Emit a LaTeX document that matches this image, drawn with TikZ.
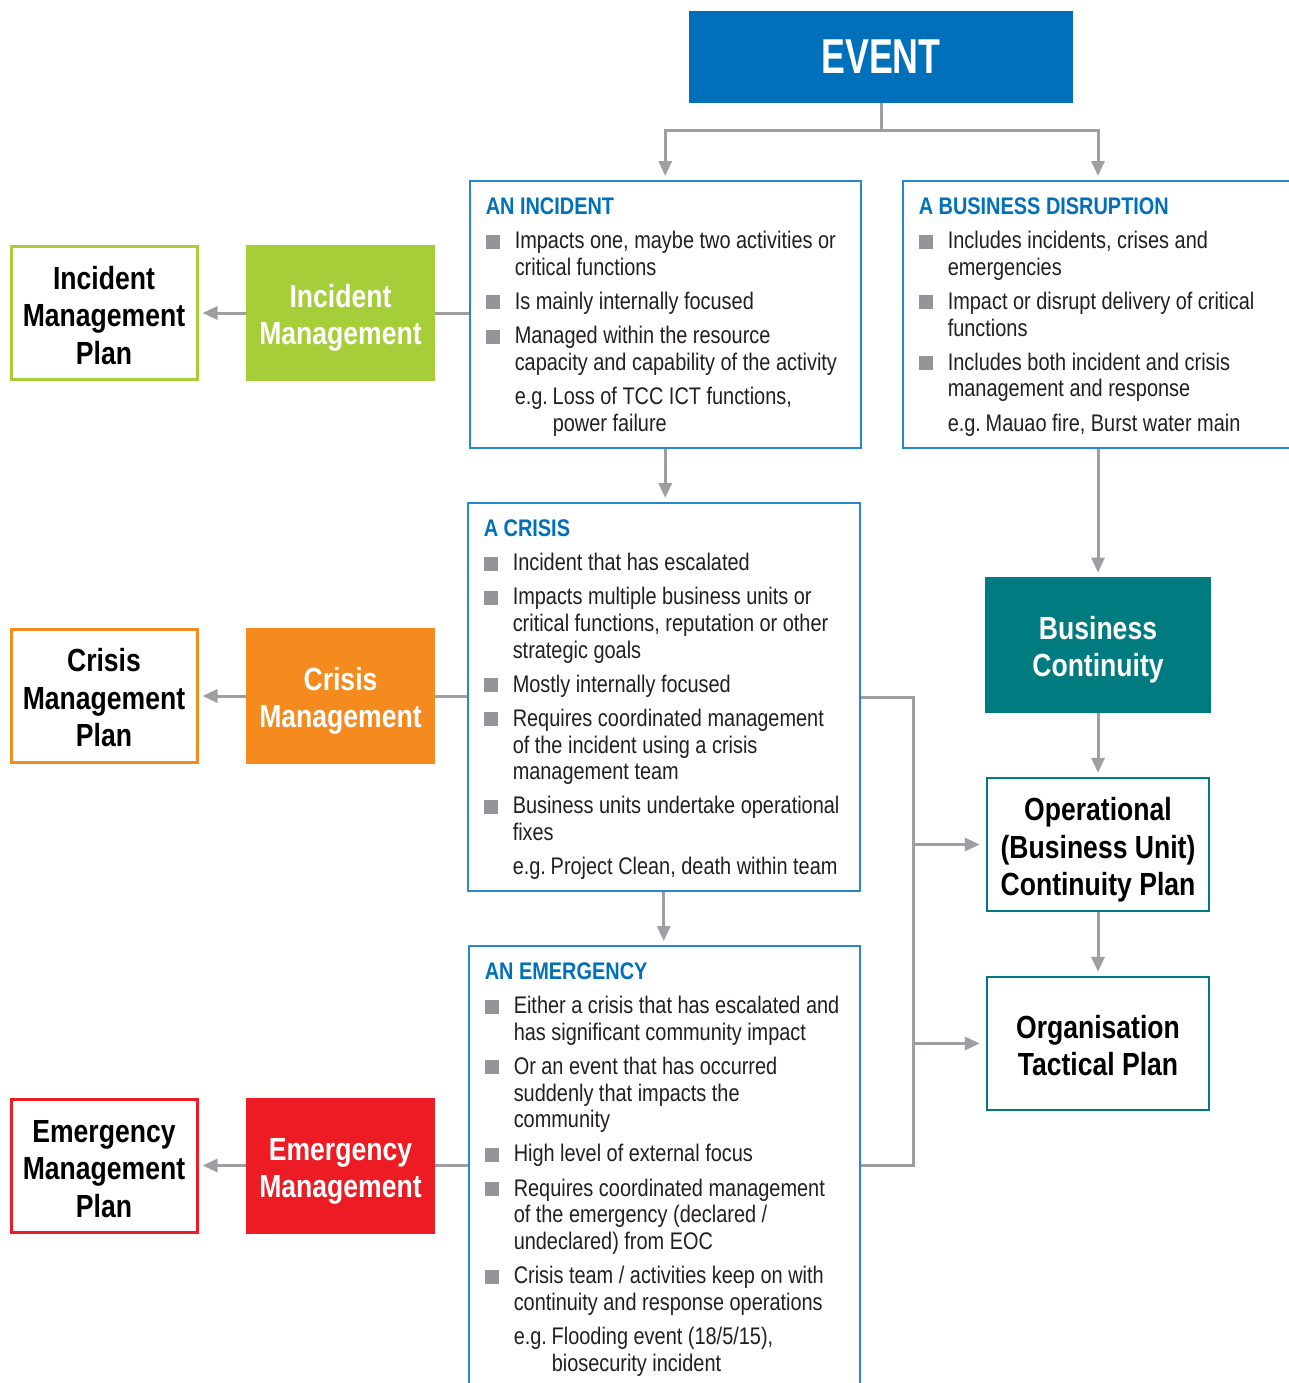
\documentclass[tikz,border=0pt]{standalone}
\usepackage{fontspec}
\setmainfont[FakeStretch=0.83]{Liberation Sans}
\newfontfamily\eventfont[FakeStretch=0.73]{Liberation Sans}
\usepackage{tikz}
\usetikzlibrary{arrows.meta}
\definecolor{EvBlue}{RGB}{0,112,186}
\definecolor{EvBorder}{RGB}{40,136,205}
\definecolor{EvGreen}{RGB}{166,206,57}
\definecolor{EvOrange}{RGB}{245,139,31}
\definecolor{EvRed}{RGB}{237,28,36}
\definecolor{EvTeal}{RGB}{0,123,128}
\definecolor{EvGrey}{RGB}{157,159,162}
\definecolor{EvBullet}{RGB}{147,149,152}
\definecolor{EvText}{RGB}{35,31,32}

\newcommand\boxhead[1]{{\bfseries\color{EvBlue}#1}\par}
\newcommand\bitem[1]{\par\vspace{3.7pt}\noindent\hangindent=14.5pt\hangafter=1
  \makebox[14.5pt][l]{\textcolor{EvBullet}{\rule{7pt}{7pt}}}#1}
\newcommand\egitem[1]{\par\vspace{3.7pt}\noindent\hangindent=33.5pt\hangafter=1
  \hspace*{14.5pt}\makebox[19pt][l]{e.g.}#1}
\newcommand\boxtext[3]{\parbox[c][#2][t]{#1}{\raggedright\fontsize{12}{13.35}\selectfont #3}}
% extra room above the first line of a box label
\newcommand\lift[1]{\rule{0pt}{#1}}

\begin{document}
\begin{tikzpicture}[x=0.5pt,y=-0.5pt,
  eventbox/.style={fill=EvBlue, text=white, minimum width=192pt, minimum height=46pt,
    font=\eventfont\bfseries\fontsize{24.5}{28}\selectfont},
  infobox/.style={draw=EvBorder, line width=0.75pt, fill=white, text=EvText,
    anchor=north west, inner xsep=8pt, inner ysep=8.5pt},
  mgmt/.style={fill=#1, text=white, minimum width=94.5pt, minimum height=68pt,
    inner sep=0pt, align=center, font=\bfseries\fontsize{16}{18.5}\selectfont},
  plan/.style={draw=#1, line width=1.5pt, fill=white, text=black, minimum width=93pt,
    minimum height=66.5pt, inner sep=0pt, align=center,
    font=\bfseries\fontsize{16}{18.7}\selectfont},
  conn/.style={draw=EvGrey, line width=1.5pt},
  arr/.style={conn, -{Triangle[length=7.5pt,width=6.5pt]}, shorten >=2pt}]
  \useasboundingbox (0,0) rectangle (1289,1383);

  % top
  \node[eventbox] (event) at (881,57) {EVENT};

  % incident
  \node[infobox] (incident) at (469,180) {\boxtext{179.5pt}{116.5pt}{%
    \boxhead{AN INCIDENT}
    \bitem{Impacts one, maybe two activities or\newline critical functions}
    \bitem{Is mainly internally focused}
    \bitem{Managed within the resource\newline capacity and capability of the activity}
    \egitem{Loss of TCC ICT functions,\newline power failure}}};

  % business disruption
  \node[infobox] (disruption) at (902,180) {\boxtext{180pt}{116.5pt}{%
    \boxhead{A BUSINESS DISRUPTION}
    \bitem{Includes incidents, crises and\newline emergencies}
    \bitem{Impact or disrupt delivery of critical\newline functions}
    \bitem{Includes both incident and crisis\newline management and response}
    \egitem{Mauao fire, Burst water main}}};

  % crisis
  \node[infobox] (crisis) at (467,502) {\boxtext{180pt}{177pt}{%
    \boxhead{A CRISIS}
    \bitem{Incident that has escalated}
    \bitem{Impacts multiple business units or\newline critical functions, reputation or other\newline strategic goals}
    \bitem{Mostly internally focused}
    \bitem{Requires coordinated management\newline of the incident using a crisis\newline management team}
    \bitem{Business units undertake operational\newline fixes}
    \egitem{Project Clean, death within team}}};

  % emergency
  \node[infobox] (emergency) at (468,945) {\boxtext{179.5pt}{213pt}{%
    \boxhead{AN EMERGENCY}
    \bitem{Either a crisis that has escalated and\newline has significant community impact}
    \bitem{Or an event that has occurred\newline suddenly that impacts the\newline community}
    \bitem{High level of external focus}
    \bitem{Requires coordinated management\newline of the emergency (declared /\newline undeclared) from EOC}
    \bitem{Crisis team / activities keep on with\newline continuity and response operations}
    \egitem{Flooding event (18/5/15),\newline biosecurity incident}}};

  % management and plans
  \node[mgmt=EvGreen] (incmgmt) at (340.5,313) {\lift{16.7pt}Incident\\Management};
  \node[plan=EvGreen] (incplan) at (104,313) {\lift{13.8pt}Incident\\Management\\Plan};
  \node[mgmt=EvOrange] (crimgmt) at (340.5,696) {\lift{16.7pt}Crisis\\Management};
  \node[plan=EvOrange] (criplan) at (104,696) {\lift{13.5pt}Crisis\\Management\\Plan};
  \node[mgmt=EvRed] (emgmgmt) at (340.5,1165.5) {\lift{16.9pt}Emergency\\Management};
  \node[plan=EvRed] (emgplan) at (104,1165.5) {\lift{14.5pt}Emergency\\Management\\Plan};

  % continuity
  \node[mgmt=EvTeal, minimum width=113pt] (bizcont) at (1098,645) {\lift{16.7pt}Business\\Continuity};
  \node[plan=EvTeal, line width=1.2pt, minimum width=111pt] (opplan) at (1098,844.5)
    {\lift{17.2pt}Operational\\(Business Unit)\\Continuity Plan};
  \node[plan=EvTeal, line width=1.2pt, minimum width=111pt] (orgplan) at (1098,1043.5)
    {\lift{13.8pt}Organisation\\Tactical Plan};

  % connectors
  \coordinate (split) at (881,130);
  \coordinate (trunk) at (913,697);
  \draw[conn] (event.south) -- (split);
  \draw[arr] (split) -| (incident.north);
  \draw[arr] (split) -| (bizcont.north |- disruption.north);
  \draw[arr] (incident.south) -- (incident.south |- crisis.north);
  \draw[arr] (crisis.south) -- (crisis.south |- emergency.north);
  \draw[conn] (incmgmt.east -| incident.west) -- (incmgmt.east);
  \draw[conn] (crimgmt.east -| crisis.west) -- (crimgmt.east);
  \draw[conn] (emgmgmt.east -| emergency.west) -- (emgmgmt.east);
  \draw[arr] (incmgmt.west) -- (incplan.east);
  \draw[arr] (crimgmt.west) -- (criplan.east);
  \draw[arr] (emgmgmt.west) -- (emgplan.east);
  \draw[arr] (bizcont.north |- disruption.south) -- (bizcont.north);
  \draw[arr] (bizcont.south) -- (opplan.north);
  \draw[arr] (opplan.south) -- (orgplan.north);
  \draw[conn] (crisis.east |- trunk) -- (trunk) |- (emgmgmt.east -| emergency.east);
  \draw[arr, shorten >=3pt] (trunk |- opplan.west) -- (opplan.west);
  \draw[arr, shorten >=3pt] (trunk |- orgplan.west) -- (orgplan.west);
\end{tikzpicture}
\end{document}
